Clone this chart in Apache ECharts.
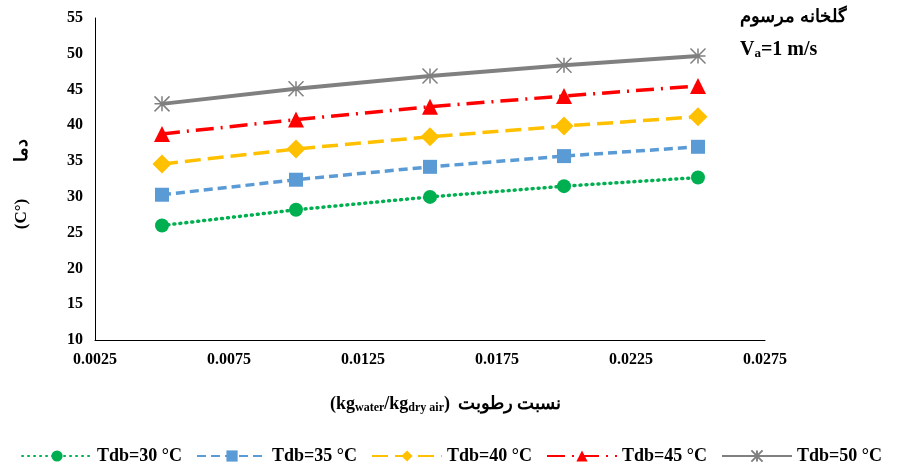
<!DOCTYPE html>
<html><head><meta charset="utf-8">
<script src="https://cdn.jsdelivr.net/npm/echarts@6/dist/echarts.min.js"></script>
<style>html,body{margin:0;background:#fff}#c{width:903px;height:472px}</style>
</head><body><div id="c"></div>
<script>
var xs = [0.005, 0.01, 0.015, 0.02, 0.025];
var names = ['Tdb=30 °C', 'Tdb=35 °C', 'Tdb=40 °C', 'Tdb=45 °C', 'Tdb=50 °C'];
var t30 = [26.0, 28.2, 30.0, 31.5, 32.7];
var t35 = [30.3, 32.4, 34.2, 35.7, 37.0];
var t40 = [34.6, 36.7, 38.4, 39.9, 41.2];
var t45 = [38.8, 40.8, 42.6, 44.1, 45.5];
var t50 = [43.0, 45.1, 46.9, 48.4, 49.7];
var colors = ['#00b050', '#5b9bd5', '#ffc000', '#ff0000', '#808080'];
var symbols = ['circle', 'rect', 'diamond', 'triangle', 'path://M0,0L10,10M10,0L0,10M5,0L5,10M0,5L10,5'];
var sizes = [14, 14, 19, 16, 15];
var dashes = [[1, 5], [9, 5], [16, 7], [18, 7, 2, 7], 'solid'];
var widths = [3.5, 3.5, 3.5, 3.5, 4];
var font = 'Liberation Serif';

var chart = echarts.init(document.getElementById('c'));
var all = [t30, t35, t40, t45, t50];
var series = all.map(function (d, i) {
    return {
        name: names[i],
        type: 'line',
        data: d.map(function (v, j) { return [xs[j], v]; }),
        symbol: symbols[i],
        symbolSize: sizes[i],
        itemStyle: { color: colors[i], borderColor: colors[i], borderWidth: i == 4 ? 1.5 : 0 },
        lineStyle: { color: colors[i], width: widths[i], type: dashes[i], cap: i == 0 ? 'round' : 'butt' }
    };
});
chart.setOption({
    animation: false,
    textStyle: { fontFamily: font },
    grid: { left: 95, right: 138, top: 18, bottom: 132 },
    xAxis: {
        type: 'value', min: 0.0025, max: 0.0275, interval: 0.005,
        axisLine: { lineStyle: { color: '#000' } },
        axisTick: { show: false },
        splitLine: { show: false },
        axisLabel: { color: '#000', fontWeight: 'bold', fontSize: 16, fontFamily: font, margin: 12,
            formatter: function (v) { return v.toFixed(4); } }
    },
    yAxis: {
        type: 'value', min: 10, max: 55, interval: 5,
        axisLine: { show: true, lineStyle: { color: '#000' } },
        axisTick: { show: false },
        splitLine: { show: false },
        axisLabel: { color: '#000', fontWeight: 'bold', fontSize: 16, fontFamily: font, margin: 12 }
    },
    legend: {
        bottom: 2, left: 'center', itemWidth: 70, itemHeight: 14, itemGap: 14,
        textStyle: { color: '#000', fontWeight: 'bold', fontSize: 18, fontFamily: font },
        data: names
    },
    graphic: [
        { type: 'text', left: 740, top: 8, style: { text: 'گلخانه مرسوم', font: 'bold 18px "Liberation Serif"', fill: '#000' } },
        { type: 'text', left: 740, top: 40, style: {
            text: '{b|V}{s|a}{b|=1 m/s}', fill: '#000',
            rich: { b: { fontSize: 20, fontWeight: 'bold', fontFamily: font }, s: { fontSize: 13, fontWeight: 'bold', fontFamily: font, padding: [8, 0, 0, 0] } } } },
        { type: 'text', x: 22, y: 150, rotation: Math.PI / 2, style: { text: 'دما', font: 'bold 18px "Liberation Serif"', fill: '#000', align: 'center', verticalAlign: 'middle' } },
        { type: 'text', x: 22, y: 214, rotation: Math.PI / 2, style: { text: '(C°)', font: 'bold 17px "Liberation Serif"', fill: '#000', align: 'center', verticalAlign: 'middle' } },
        { type: 'text', left: 330, top: 395, style: {
            text: '{b|(kg}{s|water}{b|/kg}{s|dry air}{b|)} {b| نسبت رطوبت}', fill: '#000',
            rich: { b: { fontSize: 18, fontWeight: 'bold', fontFamily: font }, s: { fontSize: 12, fontWeight: 'bold', fontFamily: font, padding: [8, 0, 0, 0] } } } }
    ],
    series: series
});
window.addEventListener('resize', function () { chart.resize(); });
</script></body></html>
